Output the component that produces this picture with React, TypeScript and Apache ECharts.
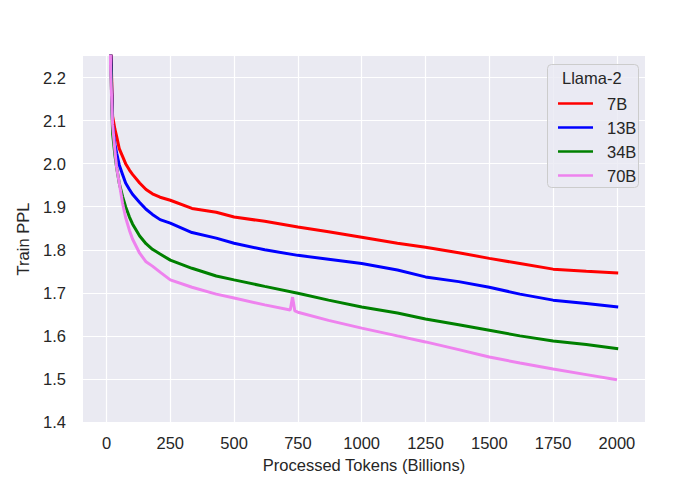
import React, { useEffect, useRef } from "react";
import * as echarts from "echarts";

const tokens = [10, 16, 24, 33, 40, 50, 63, 75, 90, 102, 130, 155, 180, 210, 250, 335, 430, 500, 620, 750, 870, 1000, 1140, 1250, 1380, 1500, 1620, 1750, 1880, 2005];
const ppl7B = [2.6, 2.3, 2.11, 2.08, 2.063, 2.035, 2.017, 2.0, 1.985, 1.975, 1.955, 1.94, 1.93, 1.922, 1.915, 1.896, 1.887, 1.876, 1.866, 1.853, 1.842, 1.829, 1.815, 1.806, 1.793, 1.78, 1.768, 1.755, 1.75, 1.746];
const ppl13B = [2.6, 2.28, 2.09, 2.045, 2.024, 1.997, 1.975, 1.955, 1.94, 1.929, 1.91, 1.894, 1.882, 1.87, 1.862, 1.84, 1.827, 1.815, 1.8, 1.787, 1.778, 1.768, 1.753, 1.737, 1.726, 1.713, 1.697, 1.683, 1.675, 1.667];
const ppl34B = [2.6, 2.25, 2.07, 2.02, 1.99, 1.955, 1.924, 1.9, 1.876, 1.86, 1.832, 1.814, 1.801, 1.79, 1.776, 1.757, 1.739, 1.73, 1.715, 1.699, 1.683, 1.667, 1.653, 1.639, 1.626, 1.613, 1.6, 1.588, 1.58, 1.57];
const tokens70B = [10, 16, 24, 33, 40, 50, 63, 75, 90, 102, 130, 155, 180, 210, 250, 335, 430, 500, 620, 720, 729, 738, 750, 870, 1000, 1140, 1250, 1380, 1500, 1620, 1750, 1880, 2000];
const ppl70B = [2.6, 2.22, 2.09, 2.03, 1.99, 1.955, 1.908, 1.875, 1.845, 1.825, 1.792, 1.772, 1.762, 1.748, 1.73, 1.713, 1.697, 1.688, 1.672, 1.66, 1.69, 1.658, 1.655, 1.636, 1.618, 1.6, 1.586, 1.568, 1.551, 1.537, 1.523, 1.51, 1.498];

const seriesNames = ["7B", "13B", "34B", "70B"];
const seriesColors = ["#ff0000", "#0000ff", "#008000", "#ee82ee"];
const xTicks = [0, 250, 500, 750, 1000, 1250, 1500, 1750, 2000];
const yTicks = [1.4, 1.5, 1.6, 1.7, 1.8, 1.9, 2.0, 2.1, 2.2];
const legendTitle = "Llama-2";

const zip = (xs: number[], ys: number[]) => xs.map((x, i) => [x, ys[i]]);

const FONT = "'Liberation Sans', Arial, sans-serif";
const TEXT = "#262626";

export default function App() {
  const ref = useRef<HTMLDivElement>(null);
  useEffect(() => {
    document.body.style.margin = "0";
    const chart = echarts.init(ref.current!, null, { renderer: "svg" });
    const data = [
      zip(tokens, ppl7B),
      zip(tokens, ppl13B),
      zip(tokens, ppl34B),
      zip(tokens70B, ppl70B),
    ];
    chart.setOption({
      animation: false,
      backgroundColor: "#ffffff",
      textStyle: { fontFamily: FONT },
      grid: {
        left: 83,
        right: 35,
        top: 56,
        bottom: 68,
        backgroundColor: "#EAEAF2",
        show: true,
        borderWidth: 0,
        outerBoundsMode: "none",
      },
      xAxis: {
        type: "value",
        min: -92,
        max: 2110,
        name: "Processed Tokens (Billions)",
        nameLocation: "middle",
        nameGap: 34,
        nameTextStyle: { color: TEXT, fontSize: 16.5, fontFamily: FONT },
        axisLine: { show: false },
        axisTick: { show: false, customValues: xTicks },
        axisLabel: {
          customValues: xTicks,
          color: TEXT,
          fontSize: 16.5,
          fontFamily: FONT,
          margin: 12,
          formatter: (v: number) => String(v),
        },
        splitLine: { show: true, lineStyle: { color: "#ffffff", width: 1.2 } },
      },
      yAxis: {
        type: "value",
        min: 1.4,
        max: 2.25,
        name: "Train PPL",
        nameLocation: "middle",
        nameGap: 52,
        nameTextStyle: { color: TEXT, fontSize: 16.5, fontFamily: FONT },
        axisLine: { show: false },
        axisTick: { show: false, customValues: yTicks },
        axisLabel: {
          customValues: yTicks,
          color: TEXT,
          fontSize: 16.5,
          fontFamily: FONT,
          margin: 17,
          formatter: (v: number) => v.toFixed(1),
        },
        splitLine: { show: true, lineStyle: { color: "#ffffff", width: 1.2 } },
      },
      legend: {
        data: seriesNames,
        orient: "vertical",
        left: 553,
        top: 90,
        z: 20,
        icon: "rect",
        itemWidth: 35,
        itemHeight: 2.5,
        itemGap: 7,
        textStyle: {
          color: TEXT,
          fontSize: 16.5,
          fontFamily: FONT,
          lineHeight: 16,
          padding: [0, 0, 0, 9],
        },
      },
      graphic: [
        {
          type: "rect",
          left: 547,
          top: 64,
          z: 5,
          shape: { width: 91, height: 123, r: 4 },
          style: { fill: "rgba(234,234,242,0.8)", stroke: "#cccccc", lineWidth: 1 },
        },
        {
          type: "text",
          left: 562,
          top: 69,
          z: 6,
          style: { text: legendTitle, fill: TEXT, font: `16.5px ${FONT}` },
        },
      ],
      series: seriesNames.map((name, i) => ({
        name,
        type: "line",
        data: data[i],
        showSymbol: false,
        symbol: "none",
        clip: true,
        color: seriesColors[i],
        lineStyle: { color: seriesColors[i], width: 3 },
        z: 2 + i,
      })),
    });
    return () => chart.dispose();
  }, []);
  return <div ref={ref} style={{ width: 680, height: 490 }} />;
}
